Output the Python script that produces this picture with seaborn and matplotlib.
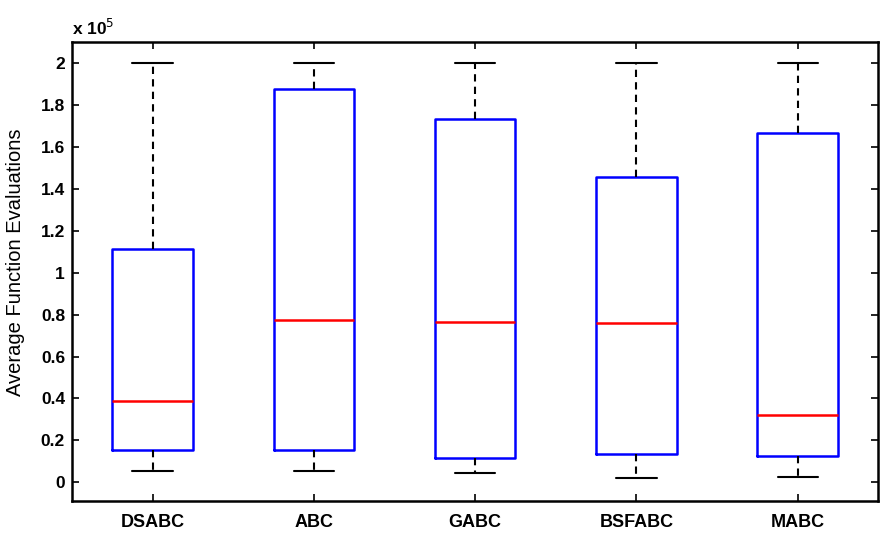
import numpy as np
import pandas as pd
import seaborn as sns
import matplotlib
matplotlib.use("Agg")
import matplotlib.pyplot as plt

# five-number summaries (function evaluations)
algorithms = ["DSABC", "ABC", "GABC", "BSFABC", "MABC"]
low_whisker = [5600, 5500, 4300, 2000, 2500]
q1 = [15300, 15300, 11800, 13400, 12300]
median = [38900, 77200, 76500, 75900, 32100]
q3 = [111500, 187700, 173300, 145600, 166600]
high_whisker = [200000, 200000, 200000, 200000, 200000]

rows = []
for i, name in enumerate(algorithms):
    for v in [low_whisker[i], q1[i], median[i], q3[i], high_whisker[i]]:
        rows.append({"alg": name, "fe": v / 1e5})
df = pd.DataFrame(rows)

sns.set_style("ticks")
plt.rcParams["font.family"] = ["Liberation Sans", "DejaVu Sans"]
plt.rcParams.update({"text.color": "black", "axes.labelcolor": "black",
                     "xtick.color": "black", "ytick.color": "black",
                     "axes.edgecolor": "black"})

fig = plt.figure(figsize=(8.89, 5.40), dpi=100)
ax = fig.add_axes([0.081, 0.072, 0.907, 0.85])

sns.boxplot(data=df, x="alg", y="fe", order=algorithms, whis=(0, 100),
            width=0.5, fill=False, linewidth=1.8, ax=ax,
            boxprops=dict(color="blue", linewidth=1.8),
            medianprops=dict(color="red", linewidth=1.8),
            whiskerprops=dict(color="black", linestyle=(0, (3.5, 2.5)), linewidth=1.5),
            capprops=dict(color="black", linewidth=1.5),
            showfliers=False)

ax.set_xlim(-0.5, 4.5)
ax.set_ylim(-0.09, 2.1)
ax.set_yticks(np.arange(0, 2.01, 0.2))
ax.set_yticklabels([f"{t:g}" for t in np.arange(0, 2.01, 0.2).round(1)])
ax.set_xlabel("")
ax.set_ylabel("Average Function Evaluations", fontsize=14.5)
ax.yaxis.set_label_coords(-0.058, 0.52)
for lab in ax.get_xticklabels():
    lab.set_fontweight("bold")
    lab.set_fontsize(13)
for lab in ax.get_yticklabels():
    lab.set_fontweight("bold")
    lab.set_fontsize(12.5)
ax.tick_params(direction="in", length=5, width=1.2, top=True, right=True)
ax.tick_params(axis="x", pad=9)
ax.tick_params(axis="y", pad=5)
for s in ax.spines.values():
    s.set_linewidth(1.8)
    s.set_visible(True)

ax.text(0.0, 1.016, r"x 10$^{5}$", transform=ax.transAxes, fontsize=12.5,
        fontweight="bold", ha="left", va="baseline")

fig.savefig("out.png", dpi=100)
